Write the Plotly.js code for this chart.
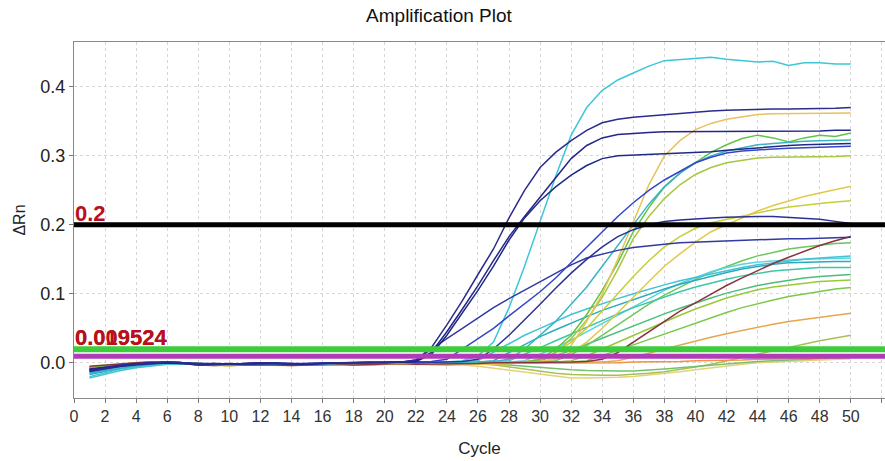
<!DOCTYPE html>
<html>
<head>
<meta charset="utf-8">
<script src="https://cdn.plot.ly/plotly-3.0.1.min.js"></script>
<style>
  html, body { margin: 0; padding: 0; background: #ffffff; }
  #chart { width: 885px; height: 461px; }
</style>
</head>
<body>
<div id="chart"></div>
<script>
// ---- Data ----
const cycles = [1,2,3,4,5,6,7,8,9,10,11,12,13,14,15,16,17,18,19,20,21,22,23,24,25,26,27,28,29,30,31,32,33,34,35,36,37,38,39,40,41,42,43,44,45,46,47,48,49,50];

const dipYellow = [
 -0.009,-0.006,-0.004,-0.002,-0.001,0.000,-0.001,-0.003,-0.003,-0.004,
 -0.003,-0.003,-0.003,-0.004,-0.003,-0.003,-0.002,-0.003,-0.003,-0.002,
 -0.002,-0.002,-0.002,-0.002,-0.003,-0.005,-0.008,-0.011,-0.014,-0.017,
 -0.020,-0.022,-0.022,-0.022,-0.021,-0.020,-0.018,-0.016,-0.013,-0.010,
 -0.007,-0.004,-0.002,0.000,0.001,0.002,0.003,0.004,0.005,0.006];
const dipOlive = [
 -0.008,-0.005,-0.003,-0.001,0.000,0.000,-0.001,-0.003,-0.003,-0.004,
 -0.003,-0.003,-0.004,-0.004,-0.003,-0.003,-0.002,-0.003,-0.003,-0.002,
 -0.002,-0.002,-0.002,-0.001,-0.001,-0.001,-0.003,-0.006,-0.010,-0.013,
 -0.015,-0.017,-0.018,-0.018,-0.018,-0.017,-0.015,-0.013,-0.010,-0.006,
 -0.002,0.003,0.008,0.013,0.018,0.023,0.028,0.032,0.036,0.040];
const dipGreen = [
 -0.006,-0.004,-0.002,0.000,0.001,0.000,-0.001,-0.002,-0.003,-0.003,
 -0.002,-0.002,-0.003,-0.003,-0.002,-0.002,-0.002,-0.002,-0.002,-0.001,
 -0.001,-0.001,-0.001,-0.001,-0.001,-0.002,-0.002,-0.003,-0.005,-0.007,
 -0.009,-0.010,-0.011,-0.012,-0.012,-0.012,-0.011,-0.009,-0.007,-0.005,
 -0.003,-0.001,0.001,0.002,0.003,0.004,0.005,0.006,0.007,0.008];
const flatOrange = [
 -0.012,-0.008,-0.005,-0.003,-0.001,0.000,-0.001,-0.003,-0.003,-0.003,
 -0.003,-0.002,-0.003,-0.003,-0.002,-0.002,-0.002,-0.002,-0.002,-0.001,
 -0.001,-0.001,-0.001,-0.001,0.000,0.000,0.000,0.000,0.000,0.000,
 0.000,0.000,0.000,0.000,0.000,0.001,0.001,0.002,0.002,0.003,
 0.003,0.004,0.004,0.005,0.005,0.006,0.006,0.007,0.007,0.008];
const lateOrange = [
 -0.010,-0.007,-0.004,-0.002,0.000,0.001,0.000,-0.003,-0.003,-0.004,
 -0.003,-0.002,-0.003,-0.003,-0.003,-0.002,-0.002,-0.002,-0.002,-0.001,
 -0.001,-0.002,-0.001,-0.001,0.000,0.000,0.000,0.000,0.000,-0.001,
 0.000,0.000,0.001,0.001,0.003,0.008,0.014,0.020,0.026,0.032,
 0.037,0.042,0.047,0.052,0.056,0.060,0.063,0.066,0.069,0.072];
const green6 = [
 -0.008,-0.005,-0.003,-0.001,0.000,0.001,0.000,-0.002,-0.003,-0.003,
 -0.002,-0.002,-0.002,-0.003,-0.002,-0.002,-0.001,-0.002,-0.002,-0.001,
 -0.001,-0.002,-0.002,-0.002,-0.001,-0.001,-0.001,0.000,0.000,0.000,
 0.001,0.001,0.003,0.010,0.018,0.026,0.034,0.042,0.050,0.058,
 0.066,0.073,0.080,0.086,0.091,0.096,0.100,0.104,0.107,0.109];
const green5 = [
 -0.007,-0.004,-0.002,0.000,0.001,0.001,0.000,-0.003,-0.003,-0.004,
 -0.003,-0.002,-0.003,-0.003,-0.003,-0.002,-0.002,-0.003,-0.002,-0.002,
 -0.001,-0.002,-0.002,-0.003,-0.002,-0.002,-0.001,-0.001,0.000,0.000,
 0.001,0.003,0.010,0.020,0.030,0.040,0.050,0.060,0.069,0.078,
 0.086,0.094,0.100,0.106,0.110,0.113,0.116,0.118,0.119,0.120];
const green4 = [
 -0.009,-0.006,-0.003,-0.001,0.000,0.001,0.000,-0.002,-0.002,-0.003,
 -0.002,-0.001,-0.002,-0.002,-0.002,-0.001,-0.001,-0.001,-0.001,0.000,
 0.000,-0.001,-0.001,-0.001,0.000,0.000,0.001,0.001,0.001,0.003,
 0.010,0.018,0.027,0.036,0.045,0.054,0.063,0.071,0.079,0.087,
 0.094,0.101,0.107,0.112,0.116,0.120,0.123,0.125,0.127,0.128];
const green3 = [
 -0.006,-0.004,-0.002,0.000,0.001,0.001,0.000,-0.002,-0.003,-0.003,
 -0.002,-0.002,-0.003,-0.003,-0.002,-0.002,-0.001,-0.002,-0.002,-0.001,
 -0.001,-0.002,-0.002,-0.002,-0.001,-0.001,0.000,0.000,0.001,0.001,
 0.003,0.012,0.025,0.040,0.055,0.070,0.085,0.098,0.110,0.121,
 0.131,0.140,0.148,0.155,0.160,0.165,0.168,0.171,0.173,0.174];
const cyan5 = [
 -0.014,-0.010,-0.006,-0.004,-0.002,-0.001,-0.001,-0.002,-0.003,-0.003,
 -0.002,-0.002,-0.002,-0.003,-0.002,-0.002,-0.001,-0.002,-0.001,-0.001,
 0.000,-0.001,0.000,0.000,0.000,0.001,0.001,0.001,0.003,0.012,
 0.022,0.033,0.045,0.058,0.070,0.082,0.094,0.105,0.115,0.124,
 0.132,0.138,0.143,0.146,0.148,0.149,0.150,0.151,0.152,0.152];
const cyan4 = [
 -0.012,-0.008,-0.005,-0.003,-0.001,0.000,0.000,-0.002,-0.002,-0.002,
 -0.002,-0.001,-0.002,-0.002,-0.002,-0.001,-0.001,-0.001,-0.001,0.000,
 0.000,0.000,0.000,0.001,0.001,0.001,0.001,0.003,0.012,0.022,
 0.032,0.042,0.052,0.062,0.071,0.080,0.088,0.096,0.103,0.110,
 0.116,0.121,0.126,0.130,0.133,0.135,0.137,0.138,0.138,0.138];
const cyan3 = [
 -0.017,-0.012,-0.008,-0.005,-0.003,-0.001,-0.001,-0.002,-0.002,-0.003,
 -0.002,-0.001,-0.002,-0.003,-0.002,-0.001,-0.001,-0.001,-0.001,0.000,
 0.000,-0.001,0.000,0.000,0.001,0.001,0.003,0.015,0.027,0.038,
 0.048,0.058,0.067,0.076,0.084,0.092,0.100,0.107,0.114,0.120,
 0.126,0.131,0.136,0.140,0.143,0.145,0.146,0.147,0.147,0.147];
const cyan2 = [
 -0.020,-0.014,-0.009,-0.006,-0.003,-0.002,-0.001,-0.002,-0.003,-0.003,
 -0.002,-0.002,-0.003,-0.003,-0.002,-0.002,-0.001,-0.002,-0.001,-0.001,
 0.000,0.000,0.000,0.001,0.001,0.003,0.015,0.028,0.040,0.050,
 0.060,0.070,0.078,0.086,0.093,0.100,0.107,0.113,0.119,0.124,
 0.129,0.134,0.138,0.142,0.145,0.148,0.150,0.152,0.153,0.155];
const yellow3 = [
 -0.006,-0.004,-0.002,0.000,0.001,0.001,0.000,-0.002,-0.002,-0.003,
 -0.002,-0.001,-0.002,-0.002,-0.002,-0.001,-0.001,-0.002,-0.001,-0.001,
 0.000,-0.001,-0.001,-0.001,-0.001,0.000,0.000,0.001,0.002,0.005,
 0.015,0.030,0.050,0.075,0.100,0.125,0.148,0.168,0.183,0.195,
 0.203,0.208,0.213,0.218,0.222,0.226,0.229,0.231,0.233,0.235];
const yellow2 = [
 -0.010,-0.007,-0.004,-0.002,-0.001,0.000,-0.001,-0.003,-0.004,-0.004,
 -0.003,-0.003,-0.004,-0.004,-0.003,-0.003,-0.002,-0.003,-0.003,-0.002,
 -0.002,-0.003,-0.003,-0.003,-0.002,-0.002,-0.001,-0.001,0.000,0.002,
 0.005,0.015,0.030,0.050,0.072,0.095,0.118,0.140,0.158,0.175,
 0.190,0.200,0.210,0.220,0.228,0.235,0.241,0.246,0.251,0.256];
const green2 = [
 -0.008,-0.005,-0.002,0.000,0.001,0.001,0.000,-0.002,-0.002,-0.003,
 -0.002,-0.001,-0.002,-0.003,-0.002,-0.001,-0.001,-0.002,-0.001,-0.001,
 0.000,-0.001,-0.001,-0.002,-0.001,0.000,0.000,0.001,0.001,0.004,
 0.015,0.035,0.062,0.095,0.135,0.180,0.212,0.238,0.258,0.273,
 0.283,0.290,0.294,0.297,0.298,0.298,0.298,0.299,0.299,0.300];
const green1 = [
 -0.007,-0.005,-0.003,-0.001,0.000,0.001,0.000,-0.002,-0.003,-0.003,
 -0.002,-0.002,-0.003,-0.003,-0.002,-0.002,-0.001,-0.002,-0.002,-0.001,
 -0.001,-0.002,-0.002,-0.002,-0.001,-0.001,0.000,0.000,0.001,0.005,
 0.020,0.040,0.070,0.105,0.145,0.190,0.225,0.255,0.275,0.290,
 0.305,0.316,0.325,0.330,0.326,0.320,0.326,0.330,0.328,0.333];
const teal1 = [
 -0.015,-0.011,-0.007,-0.004,-0.002,-0.001,-0.001,-0.002,-0.003,-0.003,
 -0.002,-0.002,-0.003,-0.003,-0.002,-0.001,-0.001,-0.002,-0.001,-0.001,
 0.000,-0.001,0.000,0.000,0.001,0.001,0.002,0.005,0.020,0.040,
 0.060,0.085,0.110,0.140,0.170,0.200,0.230,0.255,0.275,0.290,
 0.300,0.307,0.312,0.316,0.318,0.320,0.321,0.322,0.323,0.323];
const yellow1 = [
 -0.009,-0.006,-0.003,-0.001,0.000,0.001,0.000,-0.003,-0.003,-0.004,
 -0.003,-0.002,-0.003,-0.004,-0.003,-0.002,-0.002,-0.003,-0.002,-0.001,
 -0.001,-0.002,-0.002,-0.003,-0.003,-0.002,-0.002,-0.001,0.000,0.002,
 0.006,0.025,0.060,0.100,0.150,0.205,0.258,0.300,0.322,0.338,
 0.347,0.353,0.357,0.360,0.361,0.361,0.362,0.362,0.362,0.362];
const brown1 = [
 -0.005,-0.003,-0.001,0.000,0.001,0.001,0.000,-0.003,-0.004,-0.003,
 -0.003,-0.002,-0.003,-0.004,-0.003,-0.002,-0.002,-0.003,-0.002,-0.002,
 -0.001,-0.002,-0.002,-0.001,-0.001,-0.001,0.000,0.000,0.000,0.001,
 0.001,0.001,0.002,0.005,0.015,0.030,0.045,0.060,0.075,0.087,
 0.100,0.112,0.123,0.134,0.144,0.153,0.162,0.170,0.177,0.183];
const cyan1 = [
 -0.022,-0.016,-0.011,-0.007,-0.004,-0.002,-0.001,-0.002,-0.002,-0.003,
 -0.002,-0.001,-0.002,-0.002,-0.003,-0.002,-0.001,-0.001,-0.001,0.000,
 0.000,0.000,0.000,0.001,0.003,0.010,0.030,0.080,0.140,0.205,
 0.270,0.330,0.370,0.395,0.410,0.420,0.430,0.438,0.440,0.441,
 0.443,0.440,0.438,0.436,0.437,0.431,0.435,0.435,0.433,0.433];
const navy6 = [
 -0.013,-0.009,-0.005,-0.003,-0.001,0.000,0.000,-0.002,-0.002,-0.001,
 -0.002,-0.001,0.000,-0.001,-0.002,-0.001,0.000,0.000,0.000,0.001,
 0.001,0.004,0.020,0.035,0.050,0.065,0.080,0.093,0.105,0.117,
 0.130,0.142,0.152,0.158,0.163,0.167,0.170,0.172,0.174,0.175,
 0.176,0.177,0.178,0.179,0.179,0.180,0.180,0.181,0.181,0.182];
const navy5 = [
 -0.010,-0.006,-0.003,-0.001,0.000,0.001,0.000,-0.001,-0.002,-0.002,
 -0.001,0.000,-0.001,-0.002,-0.002,-0.001,0.000,0.000,0.000,0.001,
 0.001,0.000,0.001,0.001,0.002,0.005,0.020,0.040,0.062,0.085,
 0.108,0.130,0.150,0.168,0.183,0.193,0.200,0.205,0.207,0.209,
 0.210,0.211,0.212,0.212,0.212,0.211,0.210,0.208,0.205,0.202];
const blue4 = [
 -0.011,-0.007,-0.004,-0.002,0.000,0.001,0.000,-0.002,-0.001,-0.002,
 -0.002,-0.001,-0.001,-0.002,-0.001,0.000,0.000,-0.001,0.000,0.000,
 0.001,0.001,0.002,0.005,0.020,0.035,0.050,0.068,0.085,0.103,
 0.123,0.145,0.168,0.190,0.212,0.232,0.250,0.265,0.278,0.290,
 0.298,0.304,0.307,0.309,0.310,0.311,0.312,0.312,0.313,0.314];
const navy3 = [
 -0.009,-0.006,-0.004,-0.002,-0.001,0.000,-0.001,-0.003,-0.002,-0.002,
 -0.001,-0.001,-0.002,-0.002,-0.001,-0.001,0.000,0.000,0.000,0.001,
 0.001,0.002,0.012,0.040,0.072,0.105,0.140,0.178,0.210,0.235,
 0.255,0.272,0.286,0.296,0.300,0.301,0.302,0.302,0.303,0.304,
 0.306,0.308,0.310,0.312,0.314,0.315,0.316,0.317,0.318,0.318];
const navy2 = [
 -0.010,-0.007,-0.004,-0.002,0.000,0.000,-0.001,-0.002,-0.002,-0.001,
 -0.001,0.000,-0.001,-0.001,-0.002,-0.001,0.000,0.000,0.001,0.000,
 0.001,0.002,0.015,0.045,0.078,0.112,0.148,0.183,0.212,0.240,
 0.268,0.296,0.315,0.326,0.331,0.333,0.334,0.335,0.335,0.335,
 0.336,0.336,0.335,0.335,0.336,0.336,0.336,0.336,0.337,0.337];
const navy1 = [
 -0.012,-0.008,-0.005,-0.002,0.000,0.001,0.000,-0.002,-0.001,-0.002,
 -0.001,0.000,-0.001,-0.002,-0.001,0.000,0.000,0.000,0.000,0.001,
 0.001,0.004,0.022,0.055,0.090,0.128,0.165,0.210,0.250,0.283,
 0.305,0.322,0.337,0.348,0.353,0.356,0.358,0.360,0.362,0.364,
 0.365,0.366,0.367,0.368,0.368,0.368,0.368,0.369,0.369,0.370];

// drawing order (back to front)
const curves = [dipYellow, dipOlive, dipGreen, flatOrange, lateOrange, green6, green5, green4, green3,
  cyan5, cyan4, cyan3, cyan2, yellow3, yellow2, green2, green1, teal1, yellow1, brown1, cyan1,
  navy6, navy5, blue4, navy3, navy2, navy1];

// thresholds
const thresholdValues = [0.2, 0.019524, 0.009524];
const thresholdLabels = ['0.2', '0.019524', '0.009524'];
const labelAnchor = [0.2, 0.019524, 0.019524];

// ---- Styles ----
const curveColors = ['#e2d278', '#a8c052', '#74c06e', '#ee9440', '#e6a64e', '#7ac84c', '#9ac83a', '#4cbe7a', '#6ac85a',
  '#5ad2e2', '#3cc6a6', '#2aaabb', '#44c2d6', '#c4d034', '#e2c84a', '#a6c83e', '#62c444', '#36b4c8', '#e8c25a', '#8a3440', '#3ec6d8',
  '#303aa0', '#2c3294', '#3446c8', '#1f2a86', '#24248a', '#2b2b8f'];
const thresholdColors = ['#000000', '#3ccc3c', '#b03cb8'];
const thresholdWidths = [5, 6, 5];

const traces = curves.map((vals, i) => ({
  type: 'scatter', mode: 'lines', x: cycles, y: vals,
  line: {color: curveColors[i], width: 1.5},
  hoverinfo: 'skip', showlegend: false
}));

const shapes = thresholdValues.map((v, i) => ({
  type: 'line', xref: 'paper', x0: 0, x1: 1, yref: 'y', y0: v, y1: v,
  line: {color: thresholdColors[i], width: thresholdWidths[i]}, layer: 'above'
}));

const annotations = thresholdLabels.map((t, i) => ({
  text: '<b>' + t + '</b>', xref: 'x', x: 0, yref: 'y', y: labelAnchor[i],
  xanchor: 'left', yanchor: 'bottom', yshift: -3, xshift: -1, showarrow: false,
  font: {family: 'Liberation Sans, Arial, sans-serif', size: 22, color: '#b8101c'}
}));

const layout = {
  width: 885, height: 461,
  margin: {l: 74, r: 0, t: 42, b: 63},
  paper_bgcolor: '#ffffff', plot_bgcolor: '#ffffff',
  font: {family: 'Liberation Sans, Arial, sans-serif', color: '#222'},
  title: {text: 'Amplification Plot', xref: 'paper', x: 0.45, y: 0.967, yanchor: 'middle',
          font: {family: 'Liberation Sans Narrow, Liberation Sans, Arial, sans-serif', size: 19, color: '#111'}},
  xaxis: {
    range: [0, 52.2], tick0: 0, dtick: 2, ticks: 'outside', ticklen: 4, tickcolor: '#777',
    showline: true, linecolor: '#888', linewidth: 1, mirror: true,
    showgrid: true, gridcolor: '#d6d6d6', griddash: 'dot', zeroline: false,
    tickfont: {family: 'Liberation Sans Narrow, Liberation Sans, Arial, sans-serif', size: 16, color: '#333'},
    title: {text: 'Cycle', standoff: 17,
            font: {family: 'Liberation Sans Narrow, Liberation Sans, Arial, sans-serif', size: 17, color: '#222'}}
  },
  yaxis: {
    range: [-0.051, 0.465], tick0: 0, dtick: 0.1, tickformat: '.1f', ticks: 'outside', ticklen: 4, tickcolor: '#777',
    showline: true, linecolor: '#888', linewidth: 1, mirror: true,
    showgrid: true, gridcolor: '#d6d6d6', griddash: 'dot', zeroline: false,
    tickfont: {size: 18, color: '#222'},
    title: {text: 'ΔRn', standoff: 10, font: {size: 16, color: '#222'}}
  },
  shapes: shapes,
  annotations: annotations
};

Plotly.newPlot('chart', traces, layout, {staticPlot: true, displayModeBar: false});
</script>
</body>
</html>
